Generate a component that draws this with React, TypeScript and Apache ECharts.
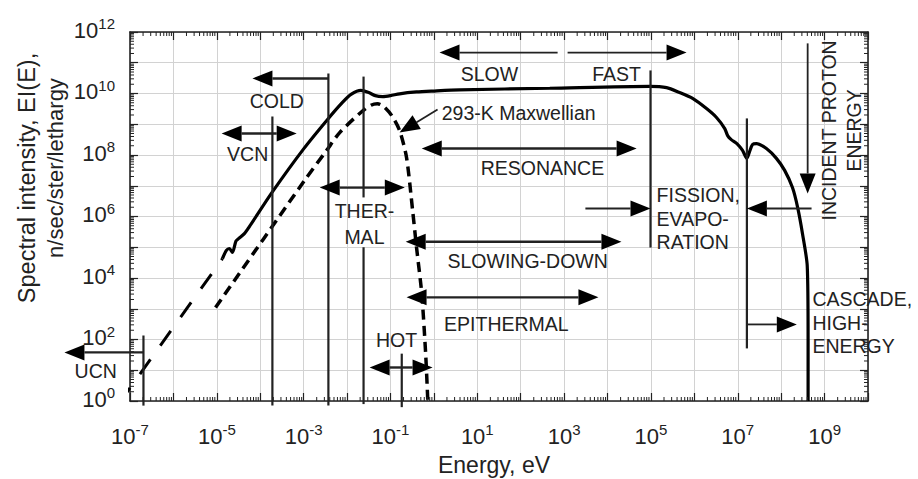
import React, { useEffect, useRef } from 'react';
import * as echarts from 'echarts';

const FONT = '"Liberation Sans", Arial, Helvetica, sans-serif';
const INK = '#222';

// Curves, in decades: [log10(E / eV), log10(EI(E))]
const spectrumLog: [number, number][] = [
  [-4.87, 4.63], [-4.78, 4.9], [-4.71, 4.96], [-4.64, 4.83], [-4.56, 5.2], [-4.5, 5.28],
  [-4.36, 5.45], [-4.25, 5.67], [-3.72, 6.8], [-3.0, 8.2], [-2.43, 9.19], [-2.1, 9.72],
  [-1.9, 9.98], [-1.68, 10.1], [-1.5, 10.03], [-1.35, 9.93], [-1.18, 9.9], [-1.0, 9.93],
  [-0.79, 9.99], [-0.4, 10.05], [-0.03, 10.08], [0.59, 10.12], [2.67, 10.17], [4.97, 10.23],
  [5.36, 10.19], [5.66, 10.03], [5.96, 9.84], [6.28, 9.51], [6.51, 9.22], [6.7, 8.86],
  [6.77, 8.62], [6.85, 8.5], [6.98, 8.37], [7.11, 8.15], [7.21, 7.89], [7.27, 8.1],
  [7.34, 8.34], [7.43, 8.37], [7.66, 8.21], [7.89, 7.89], [8.08, 7.5], [8.26, 6.94],
  [8.38, 6.29], [8.49, 5.45], [8.6, 4.4], [8.62, 2.0], [8.62, 0],
];
const extrapolationLog: [number, number][] = [[-7.24, -0.05], [-4.87, 4.63]];
const maxwellianLog: [number, number][] = [
  [-5.03, 3.04], [-2.98, 7.17], [-2.47, 8.15], [-2.17, 8.73], [-1.67, 9.4], [-1.45, 9.62],
  [-1.3, 9.67], [-1.15, 9.57], [-0.97, 9.28], [-0.79, 8.8], [-0.63, 7.92], [-0.49, 6.2],
  [-0.4, 5.0], [-0.28, 3.5], [-0.19, 1.55], [-0.14, 0],
];

// Region boundaries: [log10 E, log10 I from, log10 I to]
const boundaryLines: [number, number, number][] = [
  [-6.69, 2.13, -0.15],
  [-3.72, 9.25, -0.15],
  [-2.43, 10.65, -0.15],
  [-1.62, 10.55, 6.62],
  [-1.62, 5.0, -0.1],
  [-0.74, 1.54, -0.2],
  [4.99, 10.75, 4.99],
  [7.21, 9.19, 1.71],
];

// Arrows: [logE1, logI1, logE2, logI2, head at start, head at end, heavy]
const arrowList: [number, number, number, number, number, number, number][] = [
  [-6.69, 1.58, -8.51, 1.58, 0, 1, 1],   // UCN
  [-4.89, 8.7, -3.16, 8.7, 1, 1, 1],     // VCN
  [-2.43, 10.49, -4.18, 10.49, 0, 1, 1], // COLD
  [-2.63, 6.94, -0.67, 6.94, 1, 1, 1],   // THERMAL
  [-1.48, 1.09, -0.03, 1.09, 1, 1, 1],   // HOT
  [2.85, 11.33, 0.13, 11.33, 0, 1, 0],   // SLOW
  [3.08, 11.33, 5.82, 11.33, 0, 1, 0],   // FAST
  [-0.28, 8.21, 4.67, 8.21, 1, 1, 1],    // RESONANCE
  [-0.65, 5.18, 4.32, 5.18, 1, 1, 1],    // SLOWING-DOWN
  [-0.63, 3.37, 3.79, 3.37, 1, 1, 1],    // EPITHERMAL
  [3.49, 6.26, 4.99, 6.26, 0, 1, 0],     // FISSION left
  [8.7, 6.26, 7.21, 6.26, 0, 1, 0],      // FISSION right
  [7.21, 2.49, 8.36, 2.49, 0, 1, 0],     // CASCADE
  [8.61, 11.63, 8.61, 6.75, 0, 1, 0],    // INCIDENT PROTON ENERGY
  [0.085, 9.48, -0.79, 8.73, 0, 1, 0],   // Maxwellian pointer
];

// Region labels: [text, logE, logI, align]
const regionLabels: [string, number, number, string][] = [
  ['UCN', -7.79, 0.99, 'center'],
  ['VCN', -4.29, 8.02, 'center'],
  ['COLD', -3.62, 9.74, 'center'],
  ['THER-\nMAL', -1.6, 5.77, 'center'],
  ['HOT', -0.86, 1.97, 'center'],
  ['293-K Maxwellian', 0.18, 9.38, 'left'],
  ['SLOW', 1.28, 10.63, 'center'],
  ['FAST', 4.21, 10.63, 'center'],
  ['RESONANCE', 2.5, 7.59, 'center'],
  ['SLOWING-DOWN', 2.16, 4.54, 'center'],
  ['EPITHERMAL', 1.67, 2.52, 'center'],
  ['FISSION,\nEVAPO-\nRATION', 5.13, 5.92, 'left'],
  ['CASCADE,\nHIGH-\nENERGY', 8.72, 2.55, 'left'],
];
const protonLabel: [string, number, number] = ['INCIDENT PROTON\nENERGY', 9.39, 8.8];

const yTitleLines = ['Spectral intensity, EI(E),', 'n/sec/ster/lethargy'];
const xTitle = 'Energy, eV';

const toPairs = (arr: [number, number][]) => arr.map(([a, b]) => [Math.pow(10, a), Math.pow(10, b)]);

const richLabel = {
  b: { fontSize: 22, lineHeight: 25, verticalAlign: 'bottom', fontFamily: FONT, color: INK },
  s: { fontSize: 15, lineHeight: 6, verticalAlign: 'top', fontFamily: FONT, color: INK },
};

const expOf = (v: number) => Math.round(Math.log10(v));

function baseAxis(extra: any) {
  return {
    type: 'log',
    logBase: 10,
    interval: 1,
    axisLine: { show: true, onZero: false, lineStyle: { color: INK, width: 1.6 } },
    axisTick: { show: true, inside: true, length: 8, lineStyle: { color: INK, width: 1.2 } },
    minorTick: { show: false },
    ...extra,
  };
}

function buildOption(): any {
  return {
    animation: false,
    backgroundColor: '#ffffff',
    grid: { left: 130, right: 50, top: 32, bottom: 78, containLabel: false, outerBoundsMode: 'none' },
    xAxis: [
      baseAxis({
        min: 1e-7, max: 1e10, splitNumber: 17, position: 'bottom',
        name: xTitle, nameLocation: 'middle', nameGap: 52,
        nameTextStyle: { fontSize: 23, fontFamily: FONT, color: INK, padding: [0, 10, 0, 0] },
        splitLine: { show: true, lineStyle: { color: '#d2d2d2', width: 1 } },
        axisLabel: {
          margin: 21,
          formatter: (v: number) => { const e = expOf(v); return e % 2 !== 0 ? `{b|10}{s|${e}}` : ''; },
          rich: richLabel,
        },
      }),
      baseAxis({
        min: 1e-7, max: 1e10, splitNumber: 17, position: 'top',
        splitLine: { show: false }, axisLabel: { show: false },
      }),
    ],
    yAxis: [
      baseAxis({
        min: 1, max: 1e12, splitNumber: 12, position: 'left',
        splitLine: { show: true, lineStyle: { color: '#d2d2d2', width: 1 } },
        axisLabel: {
          margin: 15,
          padding: [0, 0, 7, 0],
          formatter: (v: number) => { const e = expOf(v); return e % 2 === 0 ? `{b|10}{s|${e}}` : ''; },
          rich: richLabel,
        },
      }),
      baseAxis({
        min: 1, max: 1e12, splitNumber: 12, position: 'right',
        splitLine: { show: false }, axisLabel: { show: false },
      }),
    ],
    series: [
      {
        type: 'line', name: 'Neutron spectrum', data: toPairs(spectrumLog),
        symbol: 'none', smooth: 0.25, silent: true, z: 5,
        lineStyle: { color: '#000', width: 3.2 },
      },
      {
        type: 'line', name: 'Extrapolation', data: toPairs(extrapolationLog),
        symbol: 'none', silent: true, clip: false, z: 5,
        lineStyle: { color: '#000', width: 3, type: [18, 17] },
      },
      {
        type: 'line', name: '293-K Maxwellian', data: toPairs(maxwellianLog),
        symbol: 'none', smooth: 0.25, silent: true, z: 5,
        lineStyle: { color: '#000', width: 3.5, type: [10, 6] },
      },
    ],
  };
}

export default function App() {
  const ref = useRef<HTMLDivElement>(null);
  useEffect(() => {
    const el = ref.current;
    if (!el) return;
    const chart = echarts.init(el, null, { renderer: 'svg' });
    chart.setOption(buildOption());

    const px = (le: number, li: number): number[] =>
      chart.convertToPixel({ gridIndex: 0 }, [Math.pow(10, le), Math.pow(10, li)]) as number[];

    const g: any[] = [];
    const seg = (xa: number, ya: number, xb: number, yb: number, w: number) => ({
      type: 'line', silent: true, z: 50,
      shape: { x1: xa, y1: ya, x2: xb, y2: yb },
      style: { stroke: INK, lineWidth: w },
    });

    // minor log ticks on all four sides
    const [xL, yB] = px(-7, 0);
    const [xR, yT] = px(10, 12);
    for (let n = -7; n < 10; n++) {
      for (let k = 2; k <= 9; k++) {
        const [x] = px(n + Math.log10(k), 0);
        g.push(seg(x, yB, x, yB - 4, 1));
        g.push(seg(x, yT, x, yT + 4, 1));
      }
    }
    for (let n = 0; n < 12; n++) {
      for (let k = 2; k <= 9; k++) {
        const [, y] = px(0, n + Math.log10(k));
        g.push(seg(xL, y, xL + 4, y, 1));
        g.push(seg(xR, y, xR - 4, y, 1));
      }
    }

    // boundary lines
    boundaryLines.forEach(([e, i1, i2]) => {
      const a = px(e, i1);
      const b = px(e, i2);
      g.push(seg(a[0], a[1], b[0], b[1], 2.2));
    });

    // arrows
    const head = (tip: number[], from: number[]) => {
      const dx = tip[0] - from[0];
      const dy = tip[1] - from[1];
      const len = Math.hypot(dx, dy) || 1;
      const ux = dx / len, uy = dy / len;
      const L = 20, W = 8;
      const bx = tip[0] - ux * L, by = tip[1] - uy * L;
      return {
        poly: {
          type: 'polygon', silent: true, z: 51,
          shape: { points: [[tip[0], tip[1]], [bx - uy * W, by + ux * W], [bx + uy * W, by - ux * W]] },
          style: { fill: '#000' },
        },
        base: [bx, by],
      };
    };
    arrowList.forEach(([e1, i1, e2, i2, hs, he, heavy]) => {
      let a = px(e1, i1);
      let b = px(e2, i2);
      if (he) { const h = head(b, a); g.push(h.poly); b = [h.base[0], h.base[1]]; }
      if (hs) { const h = head(a, px(e2, i2)); g.push(h.poly); a = [h.base[0], h.base[1]]; }
      g.push(seg(a[0], a[1], b[0], b[1], heavy ? 2.4 : 1.8));
    });

    // region labels
    regionLabels.forEach(([text, e, i, align]) => {
      const [x, y] = px(e, i);
      g.push({
        type: 'text', silent: true, z: 52, x, y,
        style: {
          text, fontSize: 19.5, fontFamily: FONT, fill: INK,
          align, verticalAlign: 'middle', textAlign: align, textVerticalAlign: 'middle',
          lineHeight: text.startsWith('THER') ? 26 : 23.5,
        },
      });
    });
    {
      const [text, e, i] = protonLabel;
      const [x, y] = px(e, i);
      g.push({
        type: 'text', silent: true, z: 52, x, y, rotation: Math.PI / 2,
        style: {
          text, fontSize: 19.5, fontFamily: FONT, fill: INK, lineHeight: 25,
          align: 'center', verticalAlign: 'middle', textAlign: 'center', textVerticalAlign: 'middle',
        },
      });
    }

    // y-axis title, two lines
    const titlePlaces: [number, number, number][] = [[27, 178, 23.5], [55, 168, 22]];
    yTitleLines.forEach((text, k) => {
      const [x, y, fs] = titlePlaces[k];
      g.push({
        type: 'text', silent: true, z: 52, x, y, rotation: Math.PI / 2,
        style: {
          text, fontSize: fs, fontFamily: FONT, fill: INK,
          align: 'center', verticalAlign: 'middle', textAlign: 'center', textVerticalAlign: 'middle',
        },
      });
    });

    chart.setOption({ graphic: { elements: g } });
    return () => chart.dispose();
  }, []);
  return <div ref={ref} style={{ position: 'absolute', left: 0, top: 0, width: 918, height: 479 }} />;
}
